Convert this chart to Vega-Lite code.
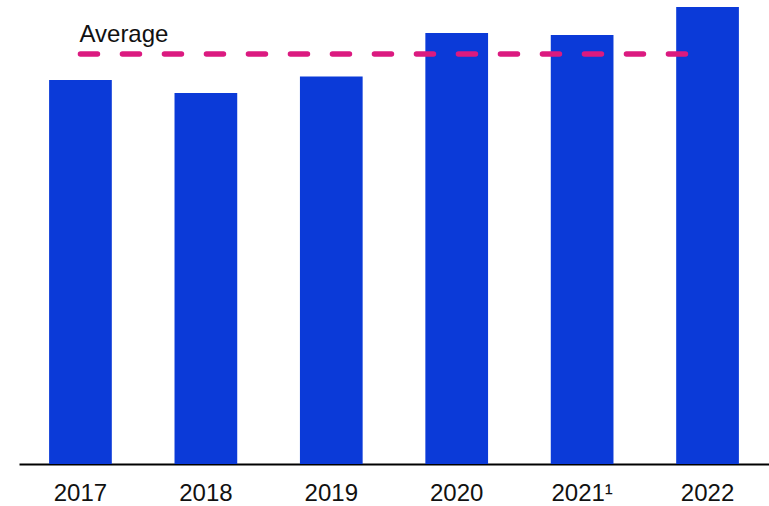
{
  "$schema": "https://vega.github.io/schema/vega-lite/v6.json",
  "width": 750,
  "height": 463,
  "autosize": {"type": "none"},
  "padding": {"left": 19, "top": 1, "right": 0, "bottom": 42},
  "background": "white",
  "config": {"view": {"stroke": null}, "font": "Liberation Sans"},
  "datasets": {
    "bars": [
      {"year": "2017", "value": 384},
      {"year": "2018", "value": 371},
      {"year": "2019", "value": 387.5},
      {"year": "2020", "value": 431},
      {"year": "2021¹", "value": 429},
      {"year": "2022", "value": 457}
    ],
    "avg": [
      {"start": "2017", "end": "2022", "avg": 410, "label": "Average"}
    ]
  },
  "layer": [
    {
      "data": {"name": "bars"},
      "mark": {"type": "bar", "color": "#0B3AD8"},
      "encoding": {
        "x": {
          "field": "year", "type": "nominal", "sort": null,
          "scale": {"paddingInner": 0.5, "paddingOuter": 0.24},
          "axis": {
            "title": null, "ticks": false, "labelAngle": 0,
            "labelFontSize": 24, "labelColor": "#111", "labelPadding": 17,
            "labelFont": "Liberation Sans",
            "domainColor": "#000", "domainWidth": 2
          }
        },
        "y": {
          "field": "value", "type": "quantitative",
          "scale": {"domain": [0, 463], "nice": false, "zero": true},
          "axis": null
        }
      }
    },
    {
      "data": {"name": "avg"},
      "mark": {"type": "rule", "color": "#DB1A80", "strokeWidth": 5.5, "strokeDash": [17, 25], "strokeCap": "round"},
      "encoding": {
        "x": {"field": "start", "type": "nominal"},
        "x2": {"field": "end"},
        "y": {"field": "avg", "type": "quantitative"}
      }
    },
    {
      "data": {"name": "avg"},
      "mark": {"type": "text", "align": "left", "baseline": "alphabetic", "dy": -12, "dx": -1, "fontSize": 24, "color": "#111", "font": "Liberation Sans"},
      "encoding": {
        "x": {"field": "start", "type": "nominal"},
        "y": {"field": "avg", "type": "quantitative"},
        "text": {"field": "label"}
      }
    }
  ]
}
